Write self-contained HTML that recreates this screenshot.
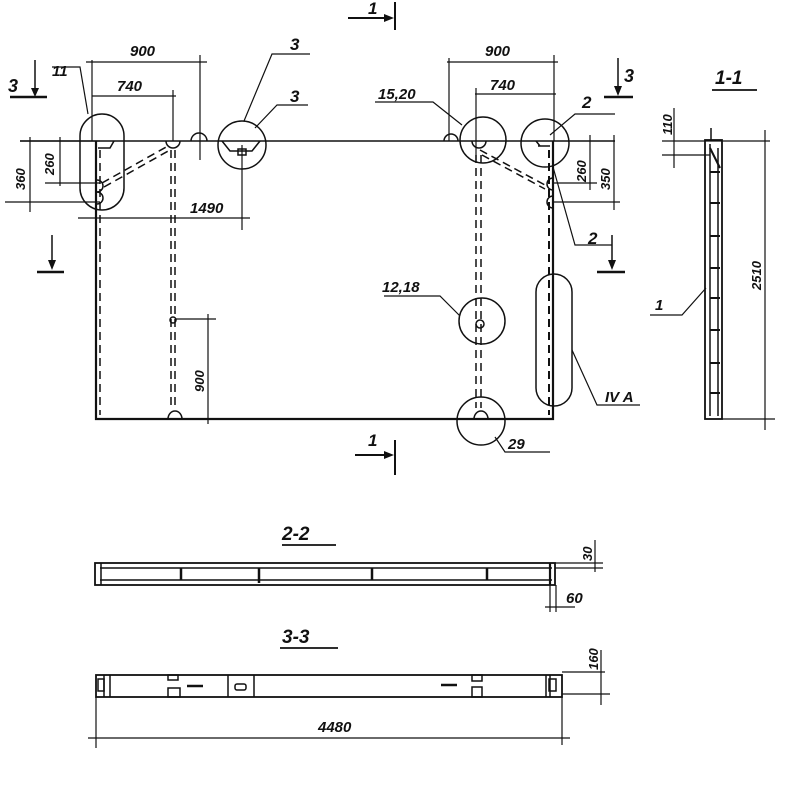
<!DOCTYPE html>
<html><head><meta charset="utf-8"><style>
html,body{margin:0;padding:0;background:#fff;width:800px;height:800px;overflow:hidden}
svg{display:block}
text{font-family:"Liberation Sans",sans-serif;font-style:italic;fill:#111;font-weight:bold}
</style></head><body>
<svg width="800" height="800" viewBox="0 0 800 800" xmlns="http://www.w3.org/2000/svg">
<g stroke="#111" fill="none" stroke-width="1.5">
<!-- main plate -->
<line x1="20" y1="141" x2="615" y2="141"/>
<polyline points="96,141 96,419 553,419 553,141" stroke-width="2.2"/>
<line x1="100" y1="150" x2="100" y2="415" stroke-dasharray="8,5"/>
<line x1="549" y1="150" x2="549" y2="415" stroke-dasharray="8,5" stroke-width="2"/>
<line x1="171" y1="150" x2="171" y2="408" stroke-dasharray="8,5"/>
<line x1="175" y1="150" x2="175" y2="408" stroke-dasharray="8,5"/>
<line x1="476" y1="155" x2="476" y2="408" stroke-dasharray="8,5"/>
<line x1="481" y1="155" x2="481" y2="408" stroke-dasharray="8,5"/>
<line x1="102" y1="183" x2="168" y2="146" stroke-dasharray="8,5"/>
<line x1="104" y1="187" x2="170" y2="150" stroke-dasharray="8,5"/>
<line x1="480" y1="150" x2="545" y2="185" stroke-dasharray="8,5"/>
<line x1="482" y1="155" x2="545" y2="189" stroke-dasharray="8,5"/>
<path d="M166,141 a7,7 0 0 0 14,0"/>
<path d="M191,141 a8,8 0 0 1 16,0"/>
<path d="M444,141 a7,7 0 0 1 14,0"/>
<path d="M472,141 a7,7 0 0 0 14,0"/>
<path d="M168,419 a7,8 0 0 1 14,0"/>
<path d="M474,419 a7,8 0 0 1 14,0"/>
<path d="M97,180 a6,6 0 0 1 0,12"/><path d="M97,192 a6,6 0 0 1 0,12"/>
<path d="M553,178 a6,6 0 0 0 0,12"/><path d="M553,196 a6,6 0 0 0 0,12"/>
<circle cx="173" cy="320" r="3"/>
<circle cx="480" cy="324" r="4"/>
<rect x="80" y="114" width="44" height="96" rx="22"/>
<circle cx="242" cy="145" r="24"/>
<path d="M222,141 l8,10 h22 l8,-10"/><rect x="238" y="149" width="8" height="6"/>
<circle cx="483" cy="140" r="23"/>
<circle cx="545" cy="143" r="24"/>
<path d="M538,146 h12 M536,141 l4,5"/>
<path d="M98,148 h12 l4,-7"/>
<circle cx="482" cy="321" r="23"/>
<circle cx="481" cy="421" r="24"/>
<rect x="536" y="274" width="36" height="132" rx="18"/>
<g stroke-width="1.2">
<line x1="92" y1="60" x2="92" y2="141"/><line x1="86" y1="62" x2="207" y2="62"/><line x1="200" y1="55" x2="200" y2="160"/>
<line x1="92" y1="96" x2="176" y2="96"/><line x1="173" y1="90" x2="173" y2="141"/>
<line x1="30" y1="137" x2="30" y2="212"/><line x1="5" y1="202" x2="100" y2="202"/><line x1="20" y1="141" x2="100" y2="141"/>
<line x1="60" y1="137" x2="60" y2="186"/><line x1="45" y1="183" x2="100" y2="183"/>
<line x1="78" y1="218" x2="250" y2="218"/><line x1="242" y1="145" x2="242" y2="230"/>
<line x1="176" y1="319" x2="216" y2="319"/><line x1="208" y1="314" x2="208" y2="424"/>
<line x1="449" y1="58" x2="449" y2="141"/><line x1="447" y1="62" x2="558" y2="62"/><line x1="554" y1="55" x2="554" y2="141"/>
<line x1="475" y1="94" x2="556" y2="94"/><line x1="476" y1="88" x2="476" y2="160"/>
<line x1="590" y1="135" x2="590" y2="190"/><line x1="614" y1="135" x2="614" y2="210"/>
<line x1="553" y1="183" x2="597" y2="183"/><line x1="553" y1="202" x2="620" y2="202"/>
<polyline points="52,67 80,67 88,114"/>
<polyline points="310,54 272,54 244,121"/>
<polyline points="308,105 277,105 255,128"/>
<polyline points="375,102 433,102 462,125"/>
<polyline points="615,114 575,114 550,135"/>
<polyline points="553,167 575,245 612,245"/>
<polyline points="384,296 440,296 460,316"/>
<polyline points="495,437 505,452 550,452"/>
<polyline points="572,350 597,405 640,405"/>
</g>
<!-- section arrows -->
<line x1="10" y1="97" x2="47" y2="97" stroke-width="2.5"/><line x1="35" y1="60" x2="35" y2="90"/>
<line x1="37" y1="272" x2="64" y2="272" stroke-width="2.5"/><line x1="52" y1="235" x2="52" y2="262"/>
<line x1="604" y1="97" x2="633" y2="97" stroke-width="2.5"/><line x1="618" y1="58" x2="618" y2="88"/>
<line x1="597" y1="272" x2="625" y2="272" stroke-width="2.5"/><line x1="612" y1="235" x2="612" y2="262"/>
<line x1="348" y1="18" x2="386" y2="18" stroke-width="2"/><line x1="395" y1="2" x2="395" y2="30" stroke-width="2"/>
<line x1="355" y1="455" x2="386" y2="455" stroke-width="2"/><line x1="395" y1="440" x2="395" y2="475" stroke-width="2"/>
<!-- section 1-1 -->
<rect x="705" y="140" width="17" height="279" stroke-width="1.8"/>
<line x1="710" y1="144" x2="710" y2="416"/><line x1="718" y1="148" x2="718" y2="416"/>
<line x1="710" y1="148" x2="720" y2="168" stroke-width="2"/>
<g stroke-width="2"><line x1="710" y1="172" x2="720" y2="172"/><line x1="710" y1="203" x2="720" y2="203"/><line x1="710" y1="236" x2="720" y2="236"/><line x1="710" y1="268" x2="720" y2="268"/><line x1="710" y1="298" x2="720" y2="298"/><line x1="710" y1="330" x2="720" y2="330"/><line x1="710" y1="363" x2="720" y2="363"/><line x1="710" y1="393" x2="720" y2="393"/></g>
<line x1="711" y1="128" x2="711" y2="140"/>
<g stroke-width="1.2">
<line x1="662" y1="141" x2="770" y2="141"/><line x1="662" y1="155" x2="710" y2="155"/><line x1="674" y1="108" x2="674" y2="168"/>
<line x1="722" y1="419" x2="775" y2="419"/><line x1="765" y1="130" x2="765" y2="430"/>
<polyline points="650,315 682,315 706,288"/>
</g>
<line x1="712" y1="90" x2="757" y2="90" stroke-width="1.8"/>
<!-- section 2-2 -->
<line x1="282" y1="545" x2="336" y2="545" stroke-width="1.8"/>
<rect x="95" y="563" width="460" height="22" stroke-width="1.8"/>
<line x1="100" y1="568" x2="552" y2="568"/><line x1="100" y1="580" x2="552" y2="580"/>
<line x1="101" y1="563" x2="101" y2="585"/><line x1="550" y1="563" x2="550" y2="585" stroke-width="2.2"/>
<line x1="181" y1="568" x2="181" y2="580" stroke-width="2.5"/><line x1="259" y1="568" x2="259" y2="583" stroke-width="2.5"/><line x1="372" y1="568" x2="372" y2="580" stroke-width="2.5"/><line x1="487" y1="568" x2="487" y2="580" stroke-width="2.5"/>
<g stroke-width="1.2">
<line x1="555" y1="563" x2="603" y2="563"/><line x1="555" y1="568" x2="603" y2="568"/><line x1="595" y1="540" x2="595" y2="572"/>
<line x1="550" y1="585" x2="550" y2="612"/><line x1="556" y1="585" x2="556" y2="612"/><line x1="545" y1="607" x2="575" y2="607"/>
</g>
<!-- section 3-3 -->
<line x1="280" y1="648" x2="338" y2="648" stroke-width="1.8"/>
<rect x="96" y="675" width="466" height="22" stroke-width="1.8"/>
<line x1="104" y1="675" x2="104" y2="697"/><line x1="110" y1="675" x2="110" y2="697"/>
<line x1="546" y1="675" x2="546" y2="697"/><line x1="550" y1="675" x2="550" y2="697"/>
<line x1="228" y1="675" x2="228" y2="697"/><line x1="254" y1="675" x2="254" y2="697"/>
<rect x="235" y="684" width="11" height="6" rx="2"/>
<rect x="98" y="679" width="6" height="12"/><rect x="549" y="679" width="7" height="12"/>
<rect x="168" y="675" width="10" height="5"/><rect x="168" y="688" width="12" height="9"/>
<rect x="472" y="675" width="10" height="6"/><rect x="472" y="687" width="10" height="10"/>
<line x1="187" y1="686" x2="203" y2="686" stroke-width="2.5"/><line x1="441" y1="685" x2="457" y2="685" stroke-width="2.5"/>
<g stroke-width="1.2">
<line x1="562" y1="672" x2="605" y2="672"/><line x1="562" y1="694" x2="610" y2="694"/><line x1="601" y1="650" x2="601" y2="705"/>
<line x1="96" y1="697" x2="96" y2="748"/><line x1="562" y1="697" x2="562" y2="745"/>
<line x1="88" y1="738" x2="570" y2="738"/>
</g>
</g>
<!-- arrowheads -->
<g fill="#111">
<polygon points="31,88 39,88 35,97"/>
<polygon points="48,260 56,260 52,270"/>
<polygon points="614,86 622,86 618,96"/>
<polygon points="608,260 616,260 612,270"/>
<polygon points="384,14 384,22 394,18"/>
<polygon points="384,451 384,459 394,455"/>
</g>
<g font-size="15">
<text x="130" y="56">900</text><text x="117" y="91">740</text>
<text x="190" y="213">1490</text>
<text x="8" y="92" font-size="18">3</text>
<text x="52" y="76">11</text>
<text x="290" y="50" font-size="17">3</text><text x="290" y="102" font-size="17">3</text>
<text x="485" y="56">900</text><text x="490" y="90">740</text>
<text x="378" y="99">15,20</text>
<text x="582" y="108" font-size="17">2</text>
<text x="588" y="244" font-size="17">2</text>
<text x="624" y="82" font-size="18">3</text>
<text x="368" y="14" font-size="17">1</text>
<text x="368" y="446" font-size="17">1</text>
<text x="382" y="292">12,18</text>
<text x="508" y="449">29</text>
<text x="605" y="402">IV A</text>
<text x="715" y="84" font-size="19">1-1</text>
<text x="655" y="310">1</text>
<text x="282" y="540" font-size="19">2-2</text>
<text x="282" y="643" font-size="19">3-3</text>
<text x="318" y="732">4480</text>
<text x="566" y="603">60</text>
</g>
<g font-size="13">
<text transform="translate(25,190) rotate(-90)">360</text>
<text transform="translate(54,175) rotate(-90)">260</text>
<text transform="translate(204,392) rotate(-90)">900</text>
<text transform="translate(586,182) rotate(-90)">260</text>
<text transform="translate(610,190) rotate(-90)">350</text>
<text transform="translate(672,135) rotate(-90)">110</text>
<text transform="translate(761,290) rotate(-90)">2510</text>
<text transform="translate(592,561) rotate(-90)">30</text>
<text transform="translate(598,670) rotate(-90)">160</text>
</g>
</svg>
</body></html>
